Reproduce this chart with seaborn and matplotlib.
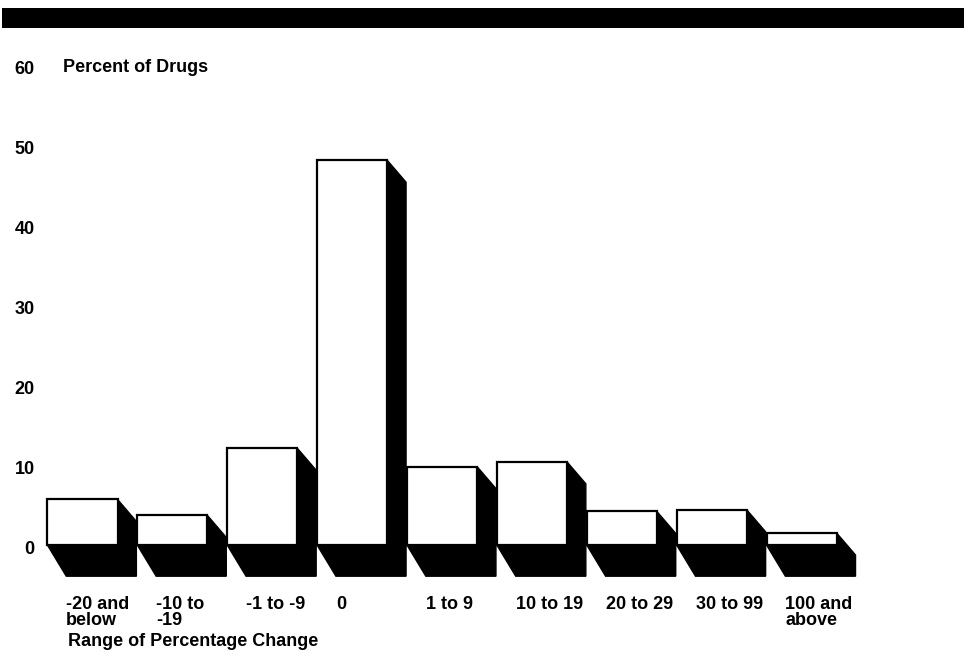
import matplotlib
matplotlib.use("Agg")
import matplotlib.pyplot as plt
import seaborn as sns
import pandas as pd
from matplotlib.patches import Polygon, Rectangle
from matplotlib.transforms import ScaledTranslation

# ---- data ----
categories = ["-20 and\nbelow", "-10 to\n-19", "-1 to -9", "0", "1 to 9",
              "10 to 19", "20 to 29", "30 to 99", "100 and\nabove"]
percent = [5.7, 3.7, 12.1, 48.1, 9.8, 10.4, 4.2, 4.4, 1.5]
y_ticks = [0, 10, 20, 30, 40, 50, 60]
y_title = "Percent of Drugs"
x_title = "Range of Percentage Change"

# ---- style ----
sns.set_style("white")
plt.rcParams["font.family"] = ["Liberation Sans", "DejaVu Sans"]
plt.rcParams["font.weight"] = "bold"
plt.rcParams["text.color"] = "black"
plt.rcParams["xtick.color"] = "black"
plt.rcParams["ytick.color"] = "black"
FS = 13

W, H = 968, 668
fig = plt.figure(figsize=(W / 100, H / 100), dpi=100)
ax = fig.add_axes([37.5 / W, (H - 585) / H, (869 - 37.5) / W, 520 / H])

df = pd.DataFrame({"range": categories, "percent": percent})
sns.barplot(data=df, x="range", y="percent", order=categories, color="white",
            saturation=1, edgecolor="black", linewidth=1.6, width=0.78,
            ax=ax, zorder=3)

# 3-D style depth (black side face + floor shadow)
dx = 0.21       # horizontal depth in category units
dy_side = 2.75  # drop of the side face, data units
dy_floor = 3.9  # drop of the floor shadow, data units
tick_pos = []
for p in ax.patches:
    x0 = p.get_x()
    w = p.get_width()
    h = p.get_height()
    x1 = x0 + w
    poly = Polygon([(x0, 0), (x0 + dx, -dy_floor), (x1 + dx, -dy_floor),
                    (x1 + dx, h - dy_side), (x1, h)], closed=True,
                   facecolor="black", edgecolor="black", linewidth=1,
                   zorder=2)
    ax.add_patch(poly)
    tick_pos.append(x0 + dx)

ax.set_xlim(-0.5, 8.75)
ax.set_ylim(-5, 60)
sns.despine(ax=ax, left=True, bottom=True, top=True, right=True)
ax.set_xlabel("")
ax.set_ylabel("")

ax.set_yticks(y_ticks)
ax.set_yticklabels([str(t) for t in y_ticks], fontsize=FS, fontweight="bold",
                   color="black")
ax.tick_params(axis="y", length=0, pad=2)
off = ScaledTranslation(0, -2 / 100, fig.dpi_scale_trans)
for lab in ax.get_yticklabels():
    lab.set_transform(lab.get_transform() + off)

ax.set_xticks(tick_pos)
ax.set_xticklabels(categories, fontsize=FS, fontweight="bold", ha="left",
                   linespacing=0.9, color="black")
ax.tick_params(axis="x", length=0, pad=8)

fig.text(63 / W, 1 - 72 / H, y_title, fontsize=FS, fontweight="bold",
         va="baseline", ha="left", color="black")
fig.text(68 / W, 1 - 646 / H, x_title, fontsize=FS, fontweight="bold",
         va="baseline", ha="left", color="black")

fig.add_artist(Rectangle((2 / W, 1 - 28 / H), 962 / W, 20 / H,
                         transform=fig.transFigure, facecolor="black",
                         edgecolor="none"))

fig.savefig("out.png", dpi=100)
